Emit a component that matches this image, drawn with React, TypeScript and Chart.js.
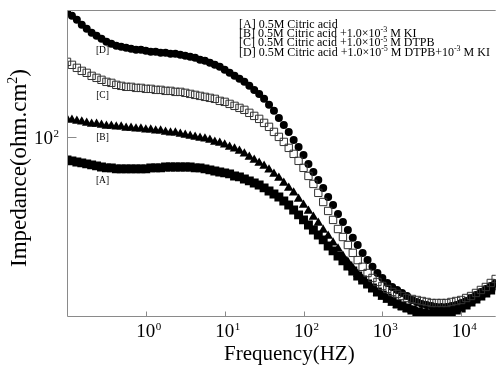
import React, { useEffect, useRef } from 'react';
import { Chart, registerables } from 'chart.js';

Chart.register(...registerables);

const FONT = "'Liberation Serif', 'Times New Roman', serif";

// Frequency (Hz), log-spaced measurement points
const FREQ = [
  0.1, 0.1155, 0.1334, 0.154, 0.1778, 0.2054, 0.2371, 0.2738, 0.3162, 0.3652, 0.4217, 0.487, 0.5623, 0.6494, 0.7499, 0.866,
  1, 1.155, 1.334, 1.54, 1.778, 2.054, 2.371, 2.738, 3.162, 3.652, 4.217, 4.87, 5.623, 6.494, 7.499, 8.66,
  10, 11.55, 13.34, 15.4, 17.78, 20.54, 23.71, 27.38, 31.62, 36.52, 42.17, 48.7, 56.23, 64.94, 74.99, 86.6,
  100, 115.5, 133.4, 154, 177.8, 205.4, 237.1, 273.8, 316.2, 365.2, 421.7, 487, 562.3, 649.4, 749.9, 866,
  1000, 1155, 1334, 1540, 1778, 2054, 2371, 2738, 3162, 3652, 4217, 4870, 5623, 6494, 7499, 8660,
  10000, 11550, 13340, 15400, 17780, 20540, 23710, 27380,
];

// [A] 0.5M Citric acid
const SERIES_A = [
  74.5, 73.6, 72.6, 71.7, 70.8, 69.9, 69.0, 68.1, 67.3, 67.3, 66.4, 66.4, 66.4, 66.4, 66.4, 66.4,
  66.4, 67.3, 67.3, 67.3, 68.1, 68.1, 68.1, 68.1, 68.1, 68.1, 67.3, 67.3, 66.4, 65.6, 64.7, 63.9,
  63.1, 62.3, 60.7, 59.95, 58.4, 57.0, 55.5, 54.1, 52.1, 50.1, 48.2, 46.4, 44.1, 41.9, 39.3, 36.9,
  34.6, 32.4, 30.4, 28.5, 26.8, 24.8, 23.3, 21.8, 20.5, 19.2, 18.0, 16.9, 16.05, 15.25, 14.49, 13.77,
  13.25, 12.75, 12.27, 11.81, 11.51, 11.22, 10.94, 10.66, 10.53, 10.39, 10.39, 10.39, 10.39, 10.53, 10.66, 10.94,
  11.22, 11.66, 12.12, 12.59, 13.08, 13.6, 14.13, 14.87,
];

// [B] + 1.0x10^-3 M KI
const SERIES_B = [
  125.9, 124.3, 122.7, 121.2, 119.6, 118.1, 118.1, 116.6, 115.1, 115.1, 113.7, 113.7, 112.2, 112.2, 110.8, 110.8,
  109.4, 109.4, 108.0, 108.0, 106.6, 105.3, 105.3, 103.9, 102.6, 101.3, 100.0, 98.7, 97.5, 96.2, 93.8, 92.6,
  90.3, 88.0, 85.8, 83.6, 80.5, 77.4, 74.5, 71.7, 69.0, 65.6, 62.3, 59.2, 55.5, 52.1, 48.9, 45.2,
  41.9, 38.8, 35.9, 33.3, 30.4, 28.2, 25.8, 23.9, 21.8, 20.2, 18.71, 17.33, 16.26, 15.25, 14.31, 13.6,
  12.92, 12.43, 11.96, 11.66, 11.37, 11.08, 10.94, 10.8, 10.66, 10.66, 10.66, 10.66, 10.66, 10.8, 10.94, 11.22,
  11.51, 11.81, 12.27, 12.75, 13.25, 13.77, 14.31, 15.06,
];

// [C] + 1.0x10^-5 M DTPB
const SERIES_C = [
  261.0, 251.2, 241.7, 232.6, 226.8, 218.2, 212.7, 207.4, 202.1, 199.5, 194.5, 192.0, 189.6, 189.6, 187.1, 187.1,
  184.8, 184.8, 182.4, 182.4, 180.1, 180.1, 177.8, 177.8, 175.6, 173.3, 171.1, 168.9, 166.8, 164.7, 162.6, 158.5,
  156.5, 152.5, 148.7, 144.9, 141.3, 136.0, 130.8, 125.9, 119.6, 113.7, 106.6, 100.0, 93.8, 86.9, 80.5, 73.6,
  67.3, 60.7, 54.8, 48.9, 43.5, 38.8, 34.6, 30.8, 27.8, 25.1, 22.7, 20.7, 19.0, 17.55, 16.47, 15.65,
  14.87, 14.31, 13.77, 13.42, 13.08, 12.75, 12.59, 12.43, 12.27, 12.12, 11.96, 11.96, 11.96, 11.96, 12.12, 12.27,
  12.43, 12.75, 13.08, 13.6, 14.13, 14.68, 15.45, 16.26,
];

// [D] + 1.0x10^-5 M DTPB + 10^-3 M KI
const SERIES_D = [
  494.8, 470.2, 446.7, 419.0, 398.1, 378.3, 364.0, 350.3, 337.1, 328.6, 320.3, 316.2, 312.2, 308.2, 304.3, 304.3,
  300.4, 296.6, 296.6, 292.8, 292.8, 289.1, 289.1, 285.4, 281.8, 278.2, 274.7, 267.8, 264.4, 257.7, 251.2, 244.9,
  235.6, 226.8, 218.2, 210.0, 202.1, 192.0, 182.4, 173.3, 162.6, 150.6, 139.5, 127.5, 116.6, 106.6, 96.2, 88.0,
  79.4, 70.8, 63.9, 57.7, 52.1, 46.4, 41.9, 37.3, 33.7, 30.4, 27.5, 25.1, 22.7, 20.7, 19.0, 17.55,
  16.47, 15.45, 14.68, 14.13, 13.6, 13.08, 12.43, 12.12, 11.81, 11.66, 11.51, 11.37, 11.37, 11.37, 11.51, 11.66,
  11.96, 12.27, 12.75, 13.25, 13.77, 14.31, 14.87, 15.45,
];

const SERIES_NAMES = ['[A]', '[B]', '[C]', '[D]'];
const LABEL_INDEX = 7;

const X_TICKS = [1, 10, 100, 1000, 10000];
const X_TICK_EXP = ['0', '1', '2', '3', '4'];
const Y_TICKS = [100];
const Y_TICK_EXP = ['2'];

const X_MIN = 0.1;
const X_MAX = 27400;
const Y_MIN = 10;
const Y_MAX = 500;

type Seg = { t: string; sup?: boolean };

const LEGEND_LINES: Seg[][] = [
  [{ t: '[A] 0.5M Citric acid' }],
  [{ t: '[B] 0.5M Citric acid +1.0\u00d710' }, { t: '-3', sup: true }, { t: ' M KI' }],
  [{ t: '[C] 0.5M Citric acid +1.0\u00d710' }, { t: '-5', sup: true }, { t: ' M DTPB' }],
  [
    { t: '[D] 0.5M Citric acid +1.0\u00d710' }, { t: '-5', sup: true }, { t: ' M DTPB+10' },
    { t: '-3', sup: true }, { t: ' M KI' },
  ],
];

const X_TITLE: Seg[] = [{ t: 'Frequency(HZ)' }];
const Y_TITLE: Seg[] = [{ t: 'Impedance(ohm.cm' }, { t: '2', sup: true }, { t: ')' }];

function drawRich(
  ctx: CanvasRenderingContext2D, segs: Seg[], x: number, y: number,
  size: number, supSize: number, rise: number, align: 'left' | 'center' | 'right',
) {
  const widths = segs.map((s) => {
    ctx.font = `${s.sup ? supSize : size}px ${FONT}`;
    return ctx.measureText(s.t).width;
  });
  const total = widths.reduce((a, b) => a + b, 0);
  let cx = align === 'center' ? x - total / 2 : align === 'right' ? x - total : x;
  ctx.textAlign = 'left';
  ctx.textBaseline = 'alphabetic';
  segs.forEach((s, i) => {
    ctx.font = `${s.sup ? supSize : size}px ${FONT}`;
    ctx.fillText(s.t, cx, s.sup ? y - rise : y);
    cx += widths[i];
  });
  return total;
}

const decorPlugin = {
  id: 'decor',
  afterDraw(chart: any) {
    const { ctx, chartArea: ca, scales } = chart;
    const xs = scales.x;
    const ys = scales.y;
    ctx.save();
    // frame
    ctx.strokeStyle = '#8a8a8a';
    ctx.lineWidth = 1;
    ctx.beginPath();
    const L = Math.round(ca.left) + 0.5;
    const B = Math.round(ca.bottom) - 0.5;
    const T = Math.round(ca.top) - 0.5;
    ctx.moveTo(L, B);
    ctx.lineTo(L, T);
    ctx.lineTo(ca.right, T);
    ctx.moveTo(L, B);
    ctx.lineTo(ca.right, B);
    X_TICKS.forEach((v) => {
      const px = Math.round(xs.getPixelForValue(v)) + 0.5;
      ctx.moveTo(px, B);
      ctx.lineTo(px, B - 5);
    });
    Y_TICKS.forEach((v) => {
      const py = Math.round(ys.getPixelForValue(v)) + 0.5;
      ctx.moveTo(L, py);
      ctx.lineTo(L + 9, py);
    });
    ctx.stroke();

    ctx.fillStyle = '#000';
    // x tick labels
    X_TICKS.forEach((v, i) => {
      const px = xs.getPixelForValue(v);
      ctx.font = `19px ${FONT}`;
      const w = ctx.measureText('10').width;
      ctx.textAlign = 'center';
      ctx.textBaseline = 'alphabetic';
      ctx.fillText('10', px, ca.bottom + 20);
      ctx.font = `11px ${FONT}`;
      ctx.textAlign = 'left';
      ctx.fillText(X_TICK_EXP[i], px + w / 2 + 0.5, ca.bottom + 13);
    });
    // y tick labels
    Y_TICKS.forEach((v, i) => {
      const py = ys.getPixelForValue(v);
      ctx.font = `11px ${FONT}`;
      const ew = ctx.measureText(Y_TICK_EXP[i]).width;
      const right = ca.left - 8;
      ctx.textAlign = 'left';
      ctx.textBaseline = 'alphabetic';
      ctx.fillText(Y_TICK_EXP[i], right - ew, py);
      ctx.font = `19px ${FONT}`;
      ctx.textAlign = 'right';
      ctx.fillText('10', right - ew - 0.5, py + 7);
    });

    // axis titles
    drawRich(ctx, X_TITLE, (ca.left + ca.right) / 2 + 8, ca.bottom + 43, 21, 13, 8, 'center');
    ctx.save();
    ctx.translate(26, 168);
    ctx.rotate(-Math.PI / 2);
    drawRich(ctx, Y_TITLE, 0, 0, 23, 14, 9, 'center');
    ctx.restore();

    // legend
    LEGEND_LINES.forEach((line, i) => {
      drawRich(ctx, line, ca.left + 172, ca.top + 16.5 + i * 9.4, 12, 8, 4.5, 'left');
    });

    // curve labels
    const series = [SERIES_A, SERIES_B, SERIES_C, SERIES_D];
    const offsets = [16, 15, 18, 14];
    ctx.font = `9.5px ${FONT}`;
    ctx.textAlign = 'center';
    ctx.textBaseline = 'alphabetic';
    series.forEach((s, i) => {
      const px = xs.getPixelForValue(FREQ[LABEL_INDEX]);
      const py = ys.getPixelForValue(s[LABEL_INDEX]);
      ctx.fillText(SERIES_NAMES[i], px + 1, py + offsets[i]);
    });
    ctx.restore();
  },
};

export default function App() {
  const ref = useRef<HTMLCanvasElement | null>(null);

  useEffect(() => {
    document.body.style.margin = '0';
    const canvas = ref.current;
    if (!canvas) return;
    const toPts = (arr: number[]) => FREQ.map((f, i) => ({ x: f, y: arr[i] }));
    const chart = new Chart(canvas, {
      type: 'scatter',
      data: {
        datasets: [
          {
            label: SERIES_NAMES[0], data: toPts(SERIES_A), pointStyle: 'rect', pointRadius: 6.3,
            backgroundColor: '#000', borderColor: '#000', borderWidth: 0, order: 4,
          },
          {
            label: SERIES_NAMES[1], data: toPts(SERIES_B), pointStyle: 'triangle', pointRadius: 5.5,
            backgroundColor: '#000', borderColor: '#000', borderWidth: 0, order: 3,
          },
          {
            label: SERIES_NAMES[2], data: toPts(SERIES_C), pointStyle: 'rect', pointRadius: 5.2,
            backgroundColor: 'rgba(0,0,0,0)', borderColor: '#333', borderWidth: 1, order: 1,
          },
          {
            label: SERIES_NAMES[3], data: toPts(SERIES_D), pointStyle: 'circle', pointRadius: 4,
            backgroundColor: '#000', borderColor: '#000', borderWidth: 0, order: 2,
          },
        ],
      } as any,
      options: {
        animation: false,
        responsive: false,
        maintainAspectRatio: false,
        events: [],
        layout: { padding: { left: 67, top: 11, right: 0, bottom: 57 } },
        plugins: { legend: { display: false }, tooltip: { enabled: false } },
        scales: {
          x: { type: 'logarithmic', min: X_MIN, max: X_MAX, display: false },
          y: { type: 'logarithmic', min: Y_MIN, max: Y_MAX, display: false },
        },
      } as any,
      plugins: [decorPlugin],
    });
    return () => chart.destroy();
  }, []);

  return (
    <div style={{ position: 'absolute', left: 0, top: 0, width: 502, height: 374, background: '#fff' }}>
      <canvas ref={ref} width={502} height={374} style={{ display: 'block', width: 502, height: 374 }} />
    </div>
  );
}
